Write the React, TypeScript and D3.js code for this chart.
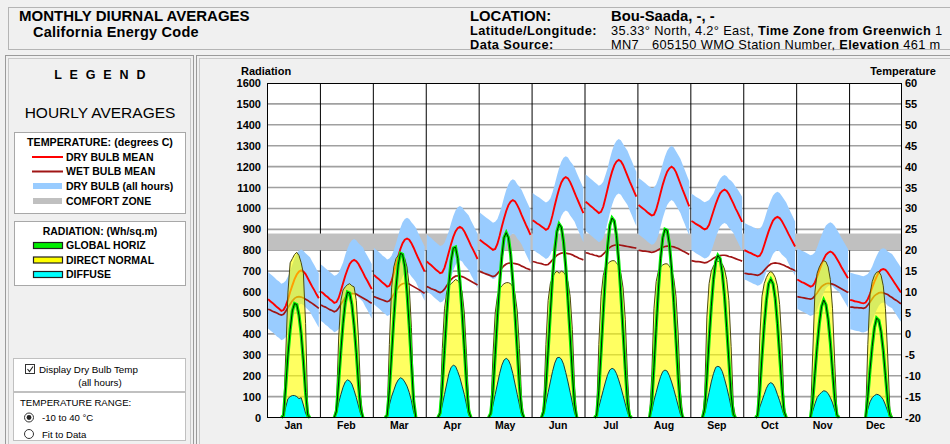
import React, { useEffect, useRef } from "react";
import * as d3 from "d3";

const months = ["Jan", "Feb", "Mar", "Apr", "May", "Jun", "Jul", "Aug", "Sep", "Oct", "Nov", "Dec"];
const radiationTicks = [0, 100, 200, 300, 400, 500, 600, 700, 800, 900, 1000, 1100, 1200, 1300, 1400, 1500, 1600];
const temperatureTicks = [-20, -15, -10, -5, 0, 5, 10, 15, 20, 25, 30, 35, 40, 45, 50, 55, 60];
const comfortZone = [20, 24];

// hourly values (hour 0..23) for each month, degrees C
const dryBulbMean = [
  [8.3, 7.8, 7.4, 6.9, 6.4, 6.0, 5.5, 5.7, 6.7, 8.2, 10.0, 11.6, 13.1, 14.2, 14.9, 15.2, 14.9, 14.3, 13.3, 12.3, 11.3, 10.4, 9.4, 8.5],
  [10.1, 9.7, 9.2, 8.8, 8.3, 7.9, 7.4, 7.6, 8.6, 10.3, 12.1, 13.9, 15.4, 16.7, 17.4, 17.7, 17.4, 16.7, 15.7, 14.7, 13.6, 12.7, 11.7, 10.7],
  [14.1, 13.6, 13.2, 12.7, 12.2, 11.8, 11.3, 11.5, 12.7, 14.5, 16.6, 18.5, 20.3, 21.7, 22.5, 22.8, 22.5, 21.7, 20.6, 19.4, 18.2, 17.1, 16.0, 14.9],
  [17.3, 16.8, 16.4, 15.9, 15.4, 15.0, 14.5, 14.7, 15.8, 17.6, 19.6, 21.5, 23.2, 24.5, 25.3, 25.6, 25.3, 24.5, 23.4, 22.3, 21.1, 20.1, 19.0, 17.9],
  [22.5, 22.1, 21.7, 21.3, 20.9, 20.5, 20.1, 20.3, 21.5, 23.4, 25.6, 27.6, 29.4, 30.8, 31.6, 32.0, 31.7, 30.8, 29.7, 28.4, 27.2, 26.0, 24.9, 23.7],
  [27.2, 26.8, 26.4, 26.1, 25.7, 25.3, 24.9, 25.2, 26.4, 28.4, 30.7, 32.8, 34.7, 36.2, 37.1, 37.5, 37.2, 36.3, 35.1, 33.8, 32.5, 31.3, 30.1, 28.9],
  [31.6, 31.2, 30.7, 30.3, 29.8, 29.4, 28.9, 29.2, 30.4, 32.5, 34.7, 36.9, 38.8, 40.3, 41.2, 41.6, 41.3, 40.4, 39.1, 37.8, 36.5, 35.3, 34.0, 32.8],
  [30.8, 30.4, 30.0, 29.6, 29.1, 28.7, 28.3, 28.5, 29.7, 31.6, 33.7, 35.7, 37.4, 38.8, 39.6, 40.0, 39.6, 38.7, 37.3, 35.9, 34.5, 33.2, 31.8, 30.5],
  [27.0, 26.7, 26.3, 26.0, 25.7, 25.3, 25.0, 25.2, 26.1, 27.7, 29.4, 31.0, 32.4, 33.6, 34.2, 34.5, 34.2, 33.4, 32.3, 31.2, 30.0, 29.0, 27.9, 26.8],
  [20.0, 19.8, 19.5, 19.3, 19.0, 18.8, 18.5, 18.7, 19.6, 21.2, 22.9, 24.5, 25.9, 27.1, 27.7, 28.0, 27.7, 27.0, 26.0, 25.0, 23.9, 22.9, 21.9, 20.9],
  [13.0, 12.7, 12.4, 12.2, 11.9, 11.6, 11.3, 11.5, 12.3, 13.7, 15.2, 16.6, 17.9, 18.9, 19.4, 19.7, 19.4, 18.8, 17.9, 17.0, 16.0, 15.1, 14.2, 13.3],
  [8.1, 8.0, 7.8, 7.7, 7.6, 7.4, 7.3, 7.5, 8.3, 9.6, 11.1, 12.5, 13.7, 14.7, 15.3, 15.5, 15.3, 14.7, 13.9, 13.1, 12.3, 11.5, 10.7, 9.9],
];

const wetBulbMean = [
  [5.9, 5.7, 5.4, 5.2, 5.0, 4.7, 4.5, 4.7, 5.4, 6.3, 7.1, 7.9, 8.5, 8.8, 8.9, 8.8, 8.6, 8.3, 8.0, 7.6, 7.3, 6.9, 6.5, 6.1],
  [6.9, 6.6, 6.4, 6.1, 5.8, 5.6, 5.3, 5.5, 6.2, 7.1, 7.9, 8.7, 9.3, 9.6, 9.7, 9.6, 9.5, 9.2, 8.9, 8.6, 8.3, 8.0, 7.6, 7.3],
  [8.9, 8.7, 8.5, 8.3, 8.1, 7.9, 7.7, 7.9, 8.6, 9.5, 10.3, 11.1, 11.7, 12.0, 12.1, 12.0, 11.9, 11.6, 11.3, 11.0, 10.7, 10.4, 10.0, 9.7],
  [11.3, 11.1, 10.8, 10.6, 10.4, 10.1, 9.9, 10.1, 10.7, 11.5, 12.3, 13.0, 13.5, 13.8, 13.9, 13.8, 13.7, 13.5, 13.2, 12.9, 12.6, 12.3, 12.0, 11.7],
  [14.9, 14.7, 14.5, 14.3, 14.1, 13.9, 13.7, 13.9, 14.4, 15.0, 15.7, 16.3, 16.7, 16.9, 17.0, 16.9, 16.8, 16.7, 16.5, 16.2, 16.0, 15.7, 15.5, 15.3],
  [17.3, 17.2, 17.0, 16.9, 16.8, 16.6, 16.5, 16.6, 17.1, 17.7, 18.2, 18.8, 19.1, 19.3, 19.4, 19.3, 19.2, 19.1, 18.9, 18.6, 18.4, 18.1, 17.9, 17.7],
  [19.4, 19.3, 19.1, 19.0, 18.8, 18.7, 18.5, 18.6, 19.1, 19.6, 20.2, 20.7, 21.0, 21.2, 21.3, 21.3, 21.2, 21.1, 21.0, 20.9, 20.8, 20.7, 20.6, 20.5],
  [20.0, 19.9, 19.8, 19.8, 19.7, 19.6, 19.5, 19.6, 19.8, 20.1, 20.4, 20.7, 20.9, 21.0, 21.0, 20.9, 20.8, 20.6, 20.4, 20.1, 19.8, 19.6, 19.3, 19.0],
  [17.5, 17.4, 17.3, 17.3, 17.2, 17.1, 17.0, 17.1, 17.4, 17.7, 18.1, 18.4, 18.6, 18.7, 18.8, 18.8, 18.7, 18.5, 18.4, 18.2, 18.0, 17.8, 17.6, 17.4],
  [14.5, 14.4, 14.3, 14.3, 14.2, 14.1, 14.0, 14.2, 14.6, 15.2, 15.8, 16.3, 16.7, 16.9, 17.0, 16.9, 16.8, 16.6, 16.4, 16.1, 15.9, 15.6, 15.4, 15.1],
  [8.9, 8.8, 8.7, 8.6, 8.5, 8.4, 8.3, 8.5, 9.1, 9.8, 10.6, 11.3, 11.7, 12.0, 12.1, 12.0, 11.9, 11.7, 11.4, 11.1, 10.8, 10.5, 10.2, 9.9],
  [6.4, 6.4, 6.3, 6.3, 6.2, 6.2, 6.1, 6.3, 6.9, 7.6, 8.4, 9.1, 9.5, 9.8, 9.9, 9.8, 9.6, 9.4, 9.0, 8.7, 8.3, 8.0, 7.6, 7.2],
];

const dryBulbMax = [
  [14.8, 14.3, 13.9, 13.4, 12.9, 12.5, 12.0, 12.2, 12.7, 13.7, 15.0, 16.6, 18.1, 19.2, 19.9, 20.2, 19.9, 19.3, 18.8, 18.3, 17.3, 16.4, 15.4, 14.5],
  [16.6, 16.2, 15.7, 15.3, 14.8, 14.4, 13.9, 14.1, 14.6, 15.8, 17.1, 18.9, 20.4, 21.7, 22.4, 22.7, 22.4, 21.7, 21.2, 20.7, 19.6, 18.7, 17.7, 16.7],
  [20.6, 20.1, 19.7, 19.2, 18.7, 18.3, 17.8, 18.0, 18.7, 20.0, 21.6, 23.5, 25.3, 26.7, 27.5, 27.8, 27.5, 26.7, 26.1, 25.4, 24.2, 23.1, 22.0, 20.9],
  [23.8, 23.3, 22.9, 22.4, 21.9, 21.5, 21.0, 21.2, 21.8, 23.1, 24.6, 26.5, 28.2, 29.5, 30.3, 30.6, 30.3, 29.5, 28.9, 28.3, 27.1, 26.1, 25.0, 23.9],
  [29.0, 28.6, 28.2, 27.8, 27.4, 27.0, 26.6, 26.8, 27.5, 28.9, 30.6, 32.6, 34.4, 35.8, 36.6, 37.0, 36.7, 35.8, 35.2, 34.4, 33.2, 32.0, 30.9, 29.7],
  [33.7, 33.3, 32.9, 32.6, 32.2, 31.8, 31.4, 31.7, 32.4, 33.9, 35.7, 37.8, 39.7, 41.2, 42.1, 42.5, 42.2, 41.3, 40.6, 39.8, 38.5, 37.3, 36.1, 34.9],
  [38.1, 37.7, 37.2, 36.8, 36.3, 35.9, 35.4, 35.7, 36.4, 38.0, 39.7, 41.9, 43.8, 45.3, 46.2, 46.6, 46.3, 45.4, 44.6, 43.8, 42.5, 41.3, 40.0, 38.8],
  [37.3, 36.9, 36.5, 36.1, 35.6, 35.2, 34.8, 35.0, 35.7, 37.1, 38.7, 40.7, 42.4, 43.8, 44.6, 45.0, 44.6, 43.7, 42.8, 41.9, 40.5, 39.2, 37.8, 36.5],
  [33.5, 33.2, 32.8, 32.5, 32.2, 31.8, 31.5, 31.7, 32.0, 32.8, 33.6, 34.9, 36.1, 37.1, 37.7, 38.0, 37.7, 37.0, 36.6, 36.0, 35.2, 34.5, 33.7, 32.8],
  [26.5, 26.3, 26.0, 25.8, 25.5, 25.3, 25.0, 25.2, 25.8, 27.2, 28.9, 30.5, 31.9, 33.1, 33.7, 34.0, 33.7, 33.0, 32.2, 31.4, 30.2, 29.1, 28.0, 26.9],
  [20.5, 20.2, 19.9, 19.7, 19.4, 19.1, 18.8, 19.0, 19.5, 20.7, 22.2, 23.6, 24.9, 25.9, 26.4, 26.7, 26.4, 25.8, 24.9, 24.0, 23.0, 22.1, 21.2, 20.3],
  [14.6, 14.5, 14.3, 14.2, 14.1, 13.9, 13.8, 14.0, 14.3, 15.1, 16.1, 17.5, 18.7, 19.7, 20.3, 20.5, 20.3, 19.7, 19.4, 19.1, 18.3, 17.5, 16.7, 15.9],
];

const dryBulbMin = [
  [1.3, 0.8, 0.4, -0.1, -0.6, -1.0, -1.5, -1.3, -0.8, 0.2, 2.0, 3.6, 5.1, 6.2, 6.9, 7.2, 6.9, 6.3, 5.8, 5.3, 4.3, 3.4, 2.4, 1.5],
  [3.1, 2.7, 2.2, 1.8, 1.3, 0.9, 0.4, 0.6, 1.1, 2.3, 4.1, 5.9, 7.4, 8.7, 9.4, 9.7, 9.4, 8.7, 8.2, 7.7, 6.6, 5.7, 4.7, 3.7],
  [7.1, 6.6, 6.2, 5.7, 5.2, 4.8, 4.3, 4.5, 5.2, 6.5, 8.6, 10.5, 12.3, 13.7, 14.5, 14.8, 14.5, 13.7, 13.1, 12.4, 11.2, 10.1, 9.0, 7.9],
  [10.3, 9.8, 9.4, 8.9, 8.4, 8.0, 7.5, 7.7, 8.3, 9.6, 11.6, 13.5, 15.2, 16.5, 17.3, 17.6, 17.3, 16.5, 15.9, 15.3, 14.1, 13.1, 12.0, 10.9],
  [15.5, 15.1, 14.7, 14.3, 13.9, 13.5, 13.1, 13.3, 14.0, 15.4, 17.6, 19.6, 21.4, 22.8, 23.6, 24.0, 23.7, 22.8, 22.2, 21.4, 20.2, 19.0, 17.9, 16.7],
  [20.2, 19.8, 19.4, 19.1, 18.7, 18.3, 17.9, 18.2, 18.9, 20.4, 22.7, 24.8, 26.7, 28.2, 29.1, 29.5, 29.2, 28.3, 27.6, 26.8, 25.5, 24.3, 23.1, 21.9],
  [24.6, 24.2, 23.7, 23.3, 22.8, 22.4, 21.9, 22.2, 22.9, 24.5, 26.7, 28.9, 30.8, 32.3, 33.2, 33.6, 33.3, 32.4, 31.6, 30.8, 29.5, 28.3, 27.0, 25.8],
  [23.8, 23.4, 23.0, 22.6, 22.1, 21.7, 21.3, 21.5, 22.2, 23.6, 25.7, 27.7, 29.4, 30.8, 31.6, 32.0, 31.6, 30.7, 29.8, 28.9, 27.5, 26.2, 24.8, 23.5],
  [20.0, 19.7, 19.3, 19.0, 18.7, 18.3, 18.0, 18.2, 18.6, 19.7, 21.4, 23.0, 24.4, 25.6, 26.2, 26.5, 26.2, 25.4, 24.8, 24.2, 23.0, 22.0, 20.9, 19.8],
  [13.0, 12.8, 12.5, 12.3, 12.0, 11.8, 11.5, 11.7, 12.1, 13.2, 14.9, 16.5, 17.9, 19.1, 19.7, 20.0, 19.7, 19.0, 18.5, 18.0, 16.9, 15.9, 14.9, 13.9],
  [6.0, 5.7, 5.4, 5.2, 4.9, 4.6, 4.3, 4.5, 4.8, 5.7, 7.2, 8.6, 9.9, 10.9, 11.4, 11.7, 11.4, 10.8, 10.4, 10.0, 9.0, 8.1, 7.2, 6.3],
  [1.1, 1.0, 0.8, 0.7, 0.6, 0.4, 0.3, 0.5, 0.8, 1.6, 3.1, 4.5, 5.7, 6.7, 7.3, 7.5, 7.3, 6.7, 6.4, 6.1, 5.3, 4.5, 3.7, 2.9],
];

// hourly radiation, Wh/sq.m
const globalHoriz = [
  [0, 0, 0, 0, 0, 0, 0, 10, 150, 300, 420, 510, 545, 540, 490, 400, 270, 120, 10, 0, 0, 0, 0, 0],
  [0, 0, 0, 0, 0, 0, 0, 30, 170, 320, 450, 550, 600, 595, 540, 440, 310, 160, 40, 0, 0, 0, 0, 0],
  [0, 0, 0, 0, 0, 0, 10, 130, 300, 470, 620, 730, 785, 780, 720, 600, 440, 260, 80, 0, 0, 0, 0, 0],
  [0, 0, 0, 0, 0, 0, 20, 150, 320, 490, 640, 750, 810, 815, 760, 650, 500, 330, 160, 30, 0, 0, 0, 0],
  [0, 0, 0, 0, 0, 20, 130, 300, 480, 640, 770, 860, 884, 860, 780, 650, 490, 320, 150, 30, 0, 0, 0, 0],
  [0, 0, 0, 0, 0, 30, 150, 320, 500, 670, 800, 890, 926, 910, 840, 720, 560, 390, 210, 60, 0, 0, 0, 0],
  [0, 0, 0, 0, 0, 10, 130, 310, 500, 680, 820, 920, 954, 940, 870, 750, 590, 410, 230, 70, 5, 0, 0, 0],
  [0, 0, 0, 0, 0, 0, 70, 240, 430, 610, 760, 860, 900, 895, 830, 710, 550, 370, 190, 50, 0, 0, 0, 0],
  [0, 0, 0, 0, 0, 0, 40, 190, 370, 530, 660, 745, 775, 760, 690, 580, 430, 270, 110, 15, 0, 0, 0, 0],
  [0, 0, 0, 0, 0, 0, 10, 130, 290, 440, 560, 640, 661, 640, 570, 450, 300, 150, 30, 0, 0, 0, 0, 0],
  [0, 0, 0, 0, 0, 0, 0, 80, 210, 340, 450, 530, 562, 540, 470, 360, 220, 90, 10, 0, 0, 0, 0, 0],
  [0, 0, 0, 0, 0, 0, 0, 0, 100, 230, 340, 430, 475, 465, 410, 320, 200, 80, 10, 0, 0, 0, 0, 0],
];

const directNormal = [
  [0, 0, 0, 0, 0, 0, 0, 20, 300, 600, 740, 760, 780, 790, 775, 740, 690, 450, 30, 0, 0, 0, 0, 0],
  [0, 0, 0, 0, 0, 0, 0, 60, 380, 560, 610, 625, 635, 640, 630, 625, 560, 380, 100, 0, 0, 0, 0, 0],
  [0, 0, 0, 0, 0, 0, 20, 350, 620, 720, 760, 775, 780, 775, 760, 720, 630, 430, 90, 0, 0, 0, 0, 0],
  [0, 0, 0, 0, 0, 0, 30, 330, 520, 600, 630, 640, 650, 660, 655, 640, 600, 500, 300, 60, 0, 0, 0, 0],
  [0, 0, 0, 0, 0, 30, 300, 500, 580, 615, 630, 640, 645, 645, 640, 625, 590, 510, 330, 80, 0, 0, 0, 0],
  [0, 0, 0, 0, 0, 60, 350, 560, 640, 670, 690, 700, 690, 700, 695, 680, 650, 580, 420, 150, 0, 0, 0, 0],
  [0, 0, 0, 0, 0, 20, 350, 580, 680, 720, 735, 745, 750, 750, 740, 725, 690, 620, 470, 200, 20, 0, 0, 0],
  [0, 0, 0, 0, 0, 0, 200, 520, 650, 700, 720, 730, 735, 735, 725, 705, 665, 580, 400, 130, 10, 0, 0, 0],
  [0, 0, 0, 0, 0, 0, 100, 480, 640, 700, 725, 740, 748, 745, 735, 710, 660, 560, 340, 60, 0, 0, 0, 0],
  [0, 0, 0, 0, 0, 0, 20, 380, 580, 640, 670, 690, 698, 690, 670, 630, 540, 360, 60, 0, 0, 0, 0, 0],
  [0, 0, 0, 0, 0, 0, 0, 300, 600, 690, 720, 740, 750, 745, 720, 660, 520, 260, 20, 0, 0, 0, 0, 0],
  [0, 0, 0, 0, 0, 0, 0, 0, 350, 590, 650, 680, 695, 698, 680, 630, 520, 300, 40, 0, 0, 0, 0, 0],
];

const diffuse = [
  [0, 0, 0, 0, 0, 0, 0, 5, 50, 90, 100, 105, 105, 100, 90, 95, 60, 20, 0, 0, 0, 0, 0, 0],
  [0, 0, 0, 0, 0, 0, 0, 20, 70, 110, 145, 170, 180, 175, 160, 130, 95, 55, 15, 0, 0, 0, 0, 0],
  [0, 0, 0, 0, 0, 0, 5, 60, 100, 130, 160, 180, 190, 185, 170, 150, 120, 80, 25, 0, 0, 0, 0, 0],
  [0, 0, 0, 0, 0, 0, 10, 60, 110, 160, 210, 240, 250, 245, 220, 190, 150, 110, 60, 10, 0, 0, 0, 0],
  [0, 0, 0, 0, 0, 10, 60, 110, 160, 210, 250, 275, 283, 275, 250, 210, 160, 110, 60, 10, 0, 0, 0, 0],
  [0, 0, 0, 0, 0, 15, 70, 120, 170, 220, 260, 285, 288, 280, 255, 215, 170, 120, 70, 20, 0, 0, 0, 0],
  [0, 0, 0, 0, 0, 5, 50, 90, 130, 170, 205, 228, 235, 230, 210, 180, 145, 105, 65, 25, 0, 0, 0, 0],
  [0, 0, 0, 0, 0, 0, 30, 80, 120, 160, 195, 220, 227, 222, 200, 170, 135, 95, 55, 15, 0, 0, 0, 0],
  [0, 0, 0, 0, 0, 0, 20, 70, 120, 170, 210, 240, 245, 240, 220, 185, 145, 100, 50, 5, 0, 0, 0, 0],
  [0, 0, 0, 0, 0, 0, 5, 50, 80, 110, 140, 160, 167, 160, 140, 110, 80, 45, 10, 0, 0, 0, 0, 0],
  [0, 0, 0, 0, 0, 0, 0, 30, 65, 95, 110, 120, 128, 125, 115, 95, 70, 35, 5, 0, 0, 0, 0, 0],
  [0, 0, 0, 0, 0, 0, 0, 0, 40, 75, 95, 105, 111, 108, 100, 85, 60, 30, 5, 0, 0, 0, 0, 0],
];

const FONT = "'Liberation Sans', Arial, Helvetica, sans-serif";

// keep only the daylight part of a radiation day (with one zero hour each side)
function daylight(values) {
  const first = values.findIndex((v) => v > 0);
  let last = values.length - 1;
  while (last > 0 && values[last] <= 0) last--;
  const pts = [];
  for (let h = Math.max(0, first - 1); h <= Math.min(23, last + 1); h++) pts.push([h, values[h]]);
  return pts;
}

function drawChart(node) {
  const svg = d3.select(node);
  svg.selectAll("*").remove();

  svg.append("rect").attr("width", 950).attr("height", 444).attr("fill", "#f0f0f0");

  const txt = (g, x, y, s, size, weight = "normal", anchor = "start") =>
    g
      .append("text")
      .attr("x", x)
      .attr("y", y)
      .attr("font-family", FONT)
      .attr("font-size", size)
      .attr("font-weight", weight)
      .attr("text-anchor", anchor)
      .attr("fill", "#000")
      .text(s);

  // ---- header
  const header = svg.append("g");
  header
    .append("rect")
    .attr("x", 8.5)
    .attr("y", 7.5)
    .attr("width", 945)
    .attr("height", 42)
    .attr("fill", "#f0f0f0")
    .attr("stroke", "#b4b4b4");
  txt(header, 19, 20.5, "MONTHLY DIURNAL AVERAGES", 15, "bold");
  txt(header, 33, 37, "California Energy Code", 14.5, "bold").attr("letter-spacing", 0.25);
  txt(header, 470, 21, "LOCATION:", 14.8, "bold");
  txt(header, 611, 21, "Bou-Saada, -, -", 14.8, "bold");
  txt(header, 470, 35, "Latitude/Longitude:", 12.8, "bold").attr("letter-spacing", 0.4);
  const l2 = txt(header, 611, 35, "35.33° North, 4.2° East, ", 12.8).attr("letter-spacing", 0.35);
  l2.append("tspan").attr("font-weight", "bold").text("Time Zone from Greenwich");
  l2.append("tspan").text(" 1");
  txt(header, 470, 48.5, "Data Source:", 12.8, "bold").attr("letter-spacing", 0.4);
  txt(header, 611, 48.5, "MN7", 12.8).attr("letter-spacing", 0.35);
  const l3 = txt(header, 652, 48.5, "605150 WMO Station Number, ", 12.8).attr("letter-spacing", 0.35);
  l3.append("tspan").attr("font-weight", "bold").text("Elevation");
  l3.append("tspan").text(" 461 m");

  // ---- legend panel
  const lg = svg.append("g");
  lg.append("rect").attr("x", 5.5).attr("y", 55.5).attr("width", 188).attr("height", 392).attr("fill", "#f0f0f0").attr("stroke", "#9a9a9a");
  lg.append("rect").attr("x", 8.5).attr("y", 58.5).attr("width", 182).attr("height", 390).attr("fill", "none").attr("stroke", "#c8c8c8");
  txt(lg, 101, 79, "L E G E N D", 12.5, "bold", "middle").attr("letter-spacing", 2.2);
  txt(lg, 100, 118, "HOURLY AVERAGES", 15.5, "normal", "middle");

  lg.append("rect").attr("x", 14.5).attr("y", 132.5).attr("width", 171).attr("height", 81).attr("fill", "#fff").attr("stroke", "#a8a8a8");
  txt(lg, 100, 146, "TEMPERATURE: (degrees C)", 10.7, "bold", "middle");
  const tItems = [
    { label: "DRY BULB MEAN", y: 157, kind: "line", color: "#ff0000" },
    { label: "WET BULB MEAN", y: 171.5, kind: "line", color: "#a01515" },
    { label: "DRY BULB (all hours)", y: 186, kind: "rect", color: "#99ccff" },
    { label: "COMFORT ZONE", y: 201, kind: "rect", color: "#c0c0c0" },
  ];
  tItems.forEach((d) => {
    if (d.kind === "line") {
      lg.append("line").attr("x1", 32).attr("x2", 63).attr("y1", d.y).attr("y2", d.y).attr("stroke", d.color).attr("stroke-width", 2);
    } else {
      lg.append("rect").attr("x", 33).attr("y", d.y - 3).attr("width", 29).attr("height", 6).attr("fill", d.color);
    }
    txt(lg, 66, d.y + 3.8, d.label, 10.5, "bold");
  });

  lg.append("rect").attr("x", 14.5).attr("y", 221.5).attr("width", 171).attr("height", 64).attr("fill", "#fff").attr("stroke", "#a8a8a8");
  txt(lg, 100, 235, "RADIATION: (Wh/sq.m)", 10.5, "bold", "middle");
  const rItems = [
    { label: "GLOBAL HORIZ", y: 245.5, color: "#00ee00" },
    { label: "DIRECT NORMAL", y: 260, color: "#ffff00" },
    { label: "DIFFUSE", y: 274.5, color: "#00ffff" },
  ];
  rItems.forEach((d) => {
    lg.append("rect").attr("x", 33.5).attr("y", d.y - 3).attr("width", 29).attr("height", 6).attr("fill", d.color).attr("stroke", "#202020").attr("stroke-width", 1.2);
    txt(lg, 66, d.y + 3.8, d.label, 10.5, "bold");
  });

  lg.append("rect").attr("x", 13.5).attr("y", 358.5).attr("width", 172).attr("height", 33).attr("fill", "#fff").attr("stroke", "#c0c0c0");
  lg.append("rect").attr("x", 25.5).attr("y", 364.5).attr("width", 9).attr("height", 9).attr("fill", "#fff").attr("stroke", "#333");
  lg.append("path").attr("d", "M27.5,369 L29.5,371.5 L33,366.5").attr("fill", "none").attr("stroke", "#222").attr("stroke-width", 1.1);
  txt(lg, 39, 372.5, "Display Dry Bulb Temp", 9.8);
  txt(lg, 100, 386, "(all hours)", 9.8, "normal", "middle");

  lg.append("rect").attr("x", 13.5).attr("y", 392.5).attr("width", 172).attr("height", 48).attr("fill", "#fff").attr("stroke", "#c0c0c0");
  txt(lg, 20, 406, "TEMPERATURE RANGE:", 9.6);
  lg.append("circle").attr("cx", 29).attr("cy", 417.5).attr("r", 4.5).attr("fill", "#fff").attr("stroke", "#333");
  lg.append("circle").attr("cx", 29).attr("cy", 417.5).attr("r", 2.4).attr("fill", "#222");
  txt(lg, 42, 421, "-10 to 40 °C", 9.6);
  lg.append("circle").attr("cx", 29).attr("cy", 434).attr("r", 4.5).attr("fill", "#fff").attr("stroke", "#333");
  txt(lg, 42, 437.5, "Fit to Data", 9.6);

  // ---- chart panel
  const panel = svg.append("g");
  panel.append("rect").attr("x", 196.5).attr("y", 55.5).attr("width", 760).attr("height", 392).attr("fill", "#f0f0f0").attr("stroke", "#9a9a9a");
  panel.append("rect").attr("x", 199.5).attr("y", 58.5).attr("width", 760).attr("height", 392).attr("fill", "none").attr("stroke", "#c8c8c8");

  const plot = { left: 267, right: 902, top: 83, bottom: 417.5 };
  const x = d3.scaleBand().domain(months).range([plot.left, plot.right]);
  const hour = d3.scaleLinear().domain([-0.5, 23.5]).range([0, x.bandwidth()]);
  const yR = d3.scaleLinear().domain([0, 1600]).range([plot.bottom, plot.top]);
  const yT = d3.scaleLinear().domain([-20, 60]).range([plot.bottom, plot.top]);

  const chart = svg.append("g");
  chart
    .append("rect")
    .attr("x", plot.left)
    .attr("y", plot.top)
    .attr("width", plot.right - plot.left)
    .attr("height", plot.bottom - plot.top)
    .attr("fill", "#fff");

  // grid
  chart
    .selectAll(".hgrid")
    .data(radiationTicks.slice(1, -1))
    .enter()
    .append("line")
    .attr("x1", plot.left)
    .attr("x2", plot.right)
    .attr("y1", (d) => yR(d))
    .attr("y2", (d) => yR(d))
    .attr("stroke", "#a0a0a0")
    .attr("stroke-width", 1.6);
  chart
    .selectAll(".vgrid")
    .data(months.slice(1))
    .enter()
    .append("line")
    .attr("x1", (d) => x(d) + 0.5)
    .attr("x2", (d) => x(d) + 0.5)
    .attr("y1", plot.top)
    .attr("y2", plot.bottom)
    .attr("stroke", "#000")
    .attr("stroke-width", 1);

  // comfort zone
  chart
    .append("rect")
    .attr("x", plot.left)
    .attr("width", plot.right - plot.left)
    .attr("y", yT(comfortZone[1]))
    .attr("height", yT(comfortZone[0]) - yT(comfortZone[1]))
    .attr("fill", "#c0c0c0");

  // dry bulb, all hours
  const band = d3
    .area()
    .x((d) => hour(d[0]))
    .y0((d) => yT(d[1]))
    .y1((d) => yT(d[2]));
  months.forEach((m, i) => {
    const pts = dryBulbMin[i].map((v, h) => [h, v, dryBulbMax[i][h]]);
    chart.append("path").attr("transform", `translate(${x(m)},0)`).attr("d", band(pts)).attr("fill", "#99ccff");
  });

  // temperature means
  const tLine = d3
    .line()
    .x((d, h) => hour(h))
    .y((d) => yT(d));
  months.forEach((m, i) => {
    const g = chart.append("g").attr("transform", `translate(${x(m)},0)`);
    g.append("path").attr("d", tLine(wetBulbMean[i])).attr("fill", "none").attr("stroke", "#a01515").attr("stroke-width", 1.7);
    g.append("path").attr("d", tLine(dryBulbMean[i])).attr("fill", "none").attr("stroke", "#ff0000").attr("stroke-width", 1.9);
  });

  // radiation
  const rArea = d3
    .area()
    .x((d) => hour(d[0]))
    .y0(yR(0))
    .y1((d) => yR(d[1]));
  const rLine = d3
    .line()
    .x((d) => hour(d[0]))
    .y((d) => yR(d[1]));
  months.forEach((m, i) => {
    const g = chart.append("g").attr("transform", `translate(${x(m)},0)`);
    const dn = daylight(directNormal[i]);
    g.append("path").attr("d", rArea(dn)).attr("fill", "#ffff00").attr("fill-opacity", 0.62);
    g.append("path").attr("d", rLine(dn)).attr("fill", "none").attr("stroke", "#4a4a10").attr("stroke-width", 1);
    const df = daylight(diffuse[i]);
    g.append("path").attr("d", rArea(df)).attr("fill", "#00ffff");
    g.append("path").attr("d", rLine(df)).attr("fill", "none").attr("stroke", "#1c3c3c").attr("stroke-width", 1);
    const gh = daylight(globalHoriz[i]);
    g.append("path").attr("d", rLine(gh)).attr("fill", "none").attr("stroke", "#00f000").attr("stroke-width", 3.2);
    g.append("path").attr("d", rLine(gh)).attr("fill", "none").attr("stroke", "#000").attr("stroke-width", 0.9);
  });

  // frame
  chart
    .append("rect")
    .attr("x", plot.left + 0.5)
    .attr("y", plot.top + 0.5)
    .attr("width", plot.right - plot.left - 1)
    .attr("height", plot.bottom - plot.top - 0.5)
    .attr("fill", "none")
    .attr("stroke", "#000");

  // axes labels
  const ax = svg.append("g");
  txt(ax, 241, 75, "Radiation", 11, "bold");
  txt(ax, 936, 75, "Temperature", 11, "bold", "end");
  radiationTicks.forEach((t) => {
    txt(ax, 261, yR(t) + 4, String(t), 11, "bold", "end");
  });
  temperatureTicks.forEach((t) => {
    txt(ax, 905, yT(t) + 4, String(t), 11, "bold", "start");
  });
  months.forEach((m) => {
    txt(ax, x(m) + x.bandwidth() / 2, 429, m, 10.5, "bold", "middle");
  });
}

export default function App() {
  const ref = useRef(null);
  useEffect(() => {
    if (ref.current) drawChart(ref.current);
  }, []);
  return (
    <svg
      ref={ref}
      width={950}
      height={444}
      style={{ position: "absolute", left: 0, top: 0, display: "block" }}
    />
  );
}
